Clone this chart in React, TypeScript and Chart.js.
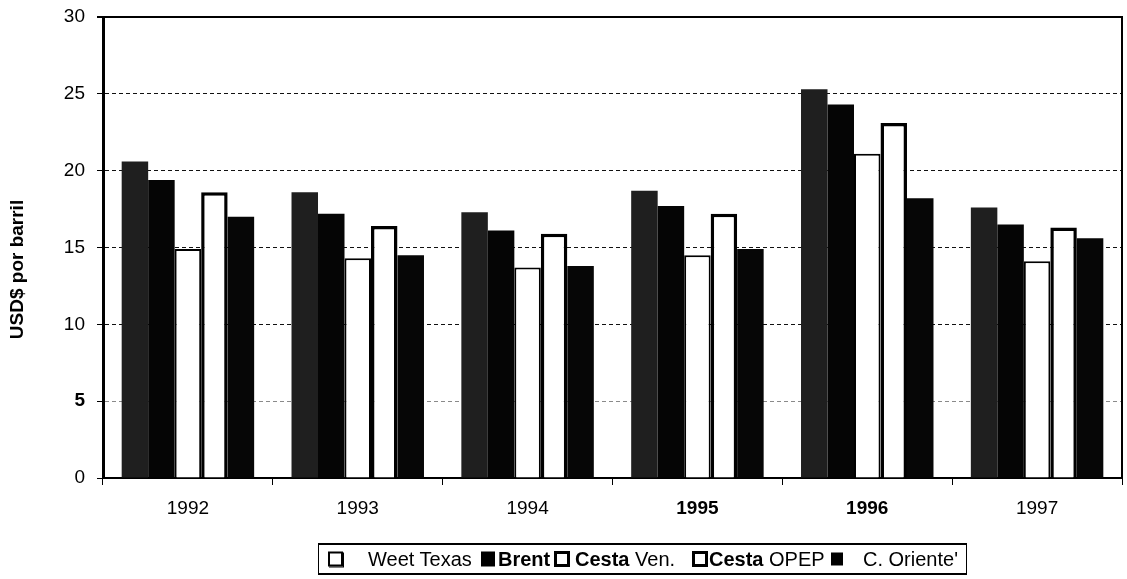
import React, { useEffect, useRef } from "react";
import { Chart, registerables } from "chart.js";

Chart.register(...registerables);

// ---- data ----
const years = ["1992", "1993", "1994", "1995", "1996", "1997"];
const weetTexas = [20.6, 18.6, 17.3, 18.7, 25.3, 17.6];
const brent = [19.4, 17.2, 16.1, 17.7, 24.3, 16.5];
const cestaVen = [14.9, 14.3, 13.7, 14.5, 21.1, 14.1];
const cestaOpep = [18.6, 16.4, 15.9, 17.2, 23.1, 16.3];
const cOriente = [17.0, 14.5, 13.8, 14.9, 18.2, 15.6];
const yMin = 0;
const yMax = 30;
const yStep = 5;
const yTitle = "USD$ por barril";
const boldYears = ["1995", "1996"];
const boldYValues = [5];

const legendItems = [
  { icon: "box", parts: [{ t: "Weet Texas", b: false }] },
  { icon: "solid", parts: [{ t: "Brent", b: true }] },
  { icon: "outline", parts: [{ t: "Cesta", b: true }, { t: " Ven.", b: false }] },
  { icon: "outline", parts: [{ t: "Cesta", b: true }, { t: " OPEP", b: false }] },
  { icon: "solidSmall", parts: [{ t: "C. Oriente'", b: false }] },
];

// ---- layout ----
const W = 1127;
const H = 579;
const FONT = '"Liberation Sans", Arial, Helvetica, sans-serif';
const legendIconX = [327, 480, 553, 691, 830];
const legendTextX = [367, 497, 574, 708, 862];

const framePlugin = {
  id: "frameAndTitle",
  afterDraw(chart: any) {
    const { ctx, chartArea } = chart;
    const { top, right, bottom, left } = chartArea;
    ctx.save();
    ctx.strokeStyle = "#000";
    ctx.lineWidth = 2;
    ctx.setLineDash([]);
    ctx.beginPath();
    ctx.moveTo(left - 6, top);
    ctx.lineTo(right, top);
    ctx.lineTo(right, bottom);
    ctx.stroke();
    ctx.translate(18, (top + bottom) / 2 + 22);
    ctx.rotate(-Math.PI / 2);
    ctx.font = "bold 19px " + FONT;
    ctx.textAlign = "center";
    ctx.textBaseline = "middle";
    ctx.fillStyle = "#000";
    ctx.fillText(yTitle, 0, 0);
    ctx.restore();
  },
};

export default function App() {
  const canvasRef = useRef<HTMLCanvasElement | null>(null);

  useEffect(() => {
    if (!canvasRef.current) return;
    const chart = new Chart(canvasRef.current, {
      type: "bar",
      data: {
        labels: years,
        datasets: [
          { label: "Weet Texas", data: weetTexas, backgroundColor: "#1f1f1f", borderWidth: 0 },
          { label: "Brent", data: brent, backgroundColor: "#050505", borderWidth: 0 },
          { label: "Cesta Ven.", data: cestaVen, backgroundColor: "#ffffff", borderColor: "#000", borderWidth: 2 },
          { label: "Cesta OPEP", data: cestaOpep, backgroundColor: "#ffffff", borderColor: "#000", borderWidth: 3.5 },
          { label: "C. Oriente'", data: cOriente, backgroundColor: "#060606", borderWidth: 0 },
        ],
      },
      options: {
        responsive: false,
        animation: false,
        devicePixelRatio: 1,
        categoryPercentage: 0.78,
        barPercentage: 1.0,
        layout: { padding: { top: 17, right: 5, left: 0, bottom: 0 } },
        plugins: {
          legend: { display: false },
          tooltip: { enabled: false },
          title: { display: false },
        },
        scales: {
          x: {
            afterFit: (scale: any) => {
              scale.height = H - 478;
              scale.paddingLeft = 0;
              scale.paddingRight = 0;
            },
            grid: {
              display: true,
              drawOnChartArea: false,
              drawTicks: true,
              tickLength: 7,
              tickColor: "#000",
              tickWidth: 1,
              color: "#000",
            },
            border: { display: true, color: "#000", width: 2 },
            ticks: {
              color: "#000",
              padding: 12,
              maxRotation: 0,
              font: (ctx: any) => ({
                family: FONT,
                size: 19,
                weight: boldYears.includes(years[ctx.index]) ? "bold" : "normal",
              }),
            },
          },
          y: {
            min: yMin,
            max: yMax,
            afterFit: (scale: any) => {
              scale.width = 103;
              scale.paddingTop = 0;
              scale.paddingBottom = 0;
            },
            grid: {
              color: (ctx: any) => (ctx.tick && ctx.tick.value === 5 ? "#8a8a8a" : "#111"),
              lineWidth: 1,
              drawTicks: true,
              tickLength: 6,
              tickColor: "#000",
              tickWidth: 1,
              tickBorderDash: [],
            },
            border: { display: true, color: "#000", width: 3, dash: [4, 3] },
            ticks: {
              stepSize: yStep,
              color: "#000",
              padding: 12,
              font: (ctx: any) => ({
                family: FONT,
                size: 19,
                weight: ctx.tick && boldYValues.includes(ctx.tick.value) ? "bold" : "normal",
              }),
            },
          },
        },
      },
      plugins: [framePlugin],
    } as any);
    return () => chart.destroy();
  }, []);

  const iconStyle = (kind: string): React.CSSProperties => {
    if (kind === "box")
      return { width: 11, height: 11, border: "2px solid #000", boxShadow: "1px 1px 0 #000", background: "#fff" };
    if (kind === "solid") return { width: 14, height: 15, background: "#000" };
    if (kind === "solidSmall") return { width: 12, height: 13, background: "#000" };
    return { width: 10, height: 10, border: "3px solid #000", background: "#fff" };
  };

  return (
    <div style={{ position: "absolute", left: 0, top: 0, width: W, height: H, background: "#fff" }}>
      <canvas ref={canvasRef} width={W} height={H} style={{ display: "block", width: W, height: H }} />
      <div
        style={{
          position: "absolute",
          left: 318,
          top: 543,
          width: 649,
          height: 32,
          borderTop: "2px solid #000",
          borderBottom: "2px solid #000",
          borderLeft: "1px solid #000",
          borderRight: "1px solid #000",
          boxSizing: "border-box",
          fontFamily: FONT,
          fontSize: 20,
          color: "#000",
        }}
      >
        {legendItems.map((it, i) => (
          <React.Fragment key={i}>
            <div
              style={{
                position: "absolute",
                left: legendIconX[i] - 318,
                top: "50%",
                transform: "translateY(-50%)",
                ...iconStyle(it.icon),
              }}
            />
            <div
              style={{
                position: "absolute",
                left: legendTextX[i] - 318,
                top: 0,
                height: 28,
                lineHeight: "28px",
                whiteSpace: "pre",
              }}
            >
              {it.parts.map((p, j) => (
                <span key={j} style={{ fontWeight: p.b ? "bold" : "normal" }}>
                  {p.t}
                </span>
              ))}
            </div>
          </React.Fragment>
        ))}
      </div>
    </div>
  );
}
